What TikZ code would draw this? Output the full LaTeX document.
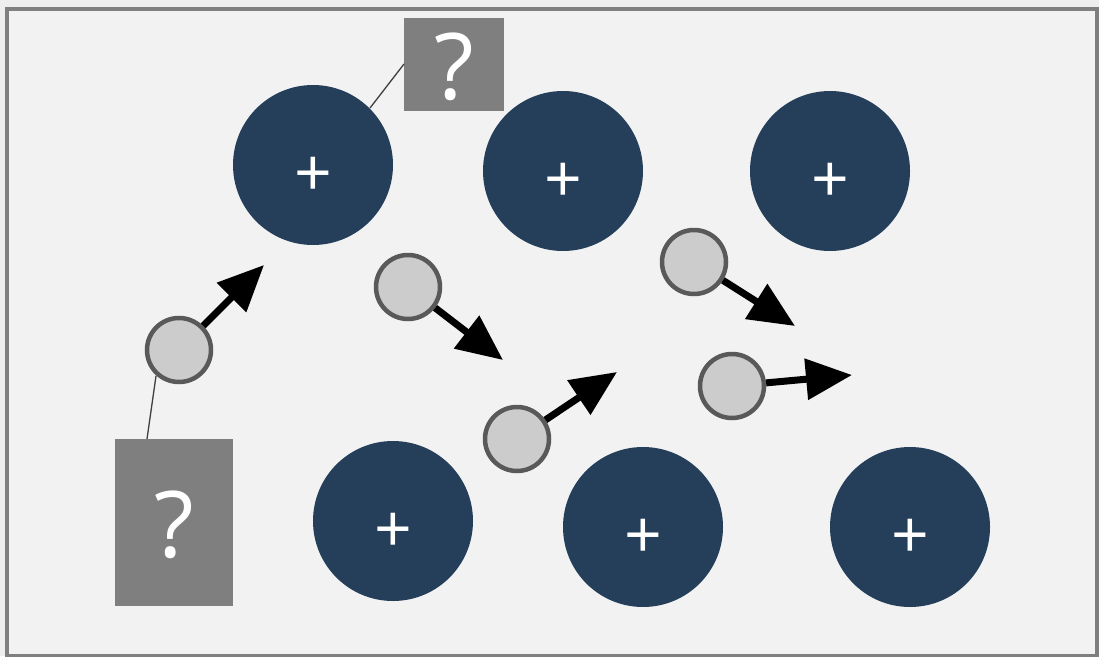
\documentclass[tikz,border=0pt]{standalone}
\usepackage{fontspec}
\setmainfont{Open Sans}
\usetikzlibrary{arrows.meta}
\definecolor{ion}{HTML}{253F5B}
\definecolor{elec}{HTML}{CCCCCC}
\definecolor{elecrim}{HTML}{595959}
\definecolor{qbox}{HTML}{7F7F7F}
\definecolor{panel}{HTML}{F2F2F2}
\definecolor{outside}{HTML}{EEEEEE}
\begin{document}
\begin{tikzpicture}[x=1pt,y=-1pt,
  ionnode/.style={circle,fill=ion,minimum size=160pt,inner sep=0pt},
  plus/.style={text=white,inner sep=0pt,font=\fontsize{66}{66}\selectfont},
  elecnode/.style={circle,fill=elec,draw=elecrim,line width=4.5pt,minimum size=64pt,inner sep=0pt},
  qnode/.style={fill=qbox,inner sep=0pt},
  qmark/.style={text=white,inner sep=0pt,font=\fontsize{92}{92}\selectfont},
  motion/.style={line width=7pt,-{Triangle[length=46pt,width=40pt]}},
  leader/.style={draw=black!75,line width=1.3pt}]
\useasboundingbox (0,0) rectangle (1099,656);
\fill[outside] (0,0) rectangle (1099,656);
\draw[qbox,line width=4pt,fill=panel] (7,9) rectangle (1097,656);
% ions
\node[ionnode] (i1) at (313,165) {};
\node[ionnode] (i2) at (563,171) {};
\node[ionnode] (i3) at (830,171) {};
\node[ionnode] (i4) at (393,521) {};
\node[ionnode] (i5) at (643,527) {};
\node[ionnode] (i6) at (910,527) {};
\foreach \n in {i1,i2,i3,i4,i5,i6}
  \node[plus,anchor=center] (p\n) at ([yshift=-12pt]\n.center) {+};
% electrons
\node[elecnode] (e1) at (179,350) {};
\node[elecnode] (e2) at (408,287) {};
\node[elecnode] (e3) at (517,439) {};
\node[elecnode] (e4) at (694,262) {};
\node[elecnode] (e5) at (732,386) {};
\coordinate (t1) at (264,265);
\coordinate (t2) at (503,360);
\coordinate (t3) at (617,372);
\coordinate (t4) at (795,326);
\coordinate (t5) at (852,375);
\draw[motion] (e1) -- (t1);
\draw[motion] (e2) -- (t2);
\draw[motion] (e3) -- (t3);
\draw[motion] (e4) -- (t4);
\draw[motion] (e5) -- (t5);
% question boxes
\node[qnode,minimum width=100pt,minimum height=93pt] (q1) at (454,64.5) {};
\node[qnode,minimum width=118pt,minimum height=167pt] (q2) at (174,522.5) {};
\node[qmark] (q1m) at ([yshift=-2pt]q1.center) {?};
\node[qmark] (q2m) at ([yshift=-2pt]q2.center) {?};
\coordinate (q1a) at (404,64);
\coordinate (i1a) at (370,108);
\coordinate (q2a) at (147,439);
\coordinate (e1a) at (156,376);
\draw[leader] (q1a) -- (i1a);
\draw[leader] (q2a) -- (e1a);
\end{tikzpicture}
\end{document}
